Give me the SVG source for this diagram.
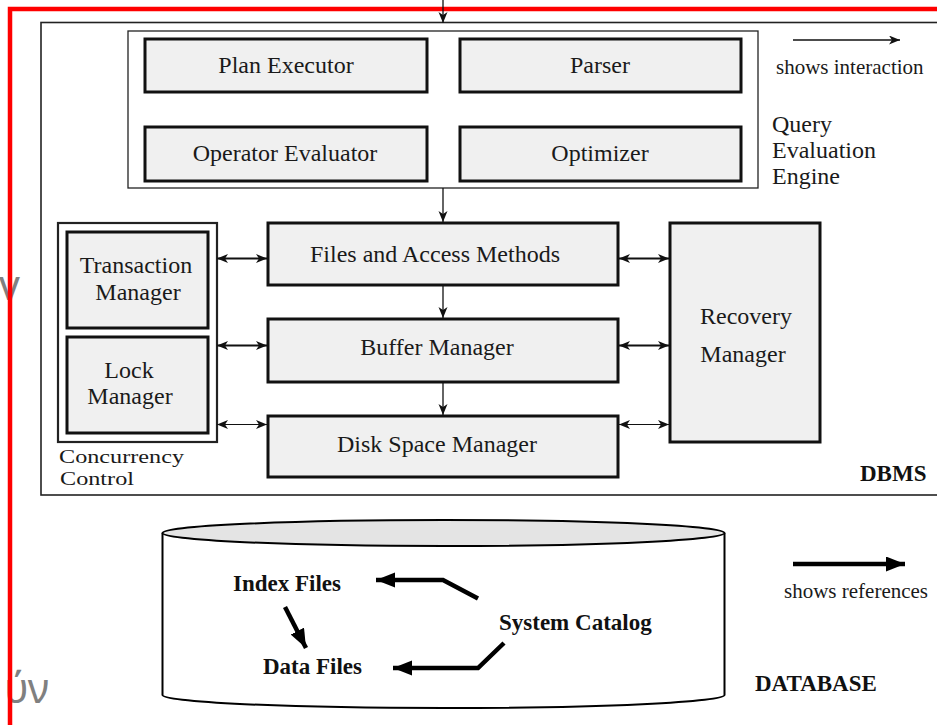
<svg xmlns="http://www.w3.org/2000/svg" width="937" height="725" viewBox="0 0 937 725">
<style>
  .t { font-family: "Liberation Serif", "Times New Roman", serif; font-size: 24px; fill: #1a1a1a; }
  .cc { font-family: "Liberation Serif", "Times New Roman", serif; font-size: 19px; fill: #1a1a1a; }
  .tb { font-family: "Liberation Serif", "Times New Roman", serif; font-size: 23px; font-weight: bold; fill: #111; }
  .sm { font-family: "Liberation Serif", "Times New Roman", serif; font-size: 21px; fill: #1a1a1a; }
  .box { fill: #f0f0f0; stroke: #111; stroke-width: 3; }
  .frame { fill: none; stroke: #222; }
  .ghost { font-family: "Noto Sans", "Open Sans", sans-serif; font-size: 41px; fill: #808080; }
  .ia { stroke: #111; fill: none; }
  .ref { stroke: #000; stroke-width: 4.5; fill: none; }
</style>
<defs>
  <marker id="ah" markerUnits="userSpaceOnUse" markerWidth="12" markerHeight="10" refX="11" refY="4.5" orient="auto-start-reverse">
    <path d="M0,0 L11,4.5 L0,9 L3,4.5 Z" fill="#111"/>
  </marker>
  <marker id="rh" markerUnits="userSpaceOnUse" markerWidth="20" markerHeight="16" refX="19" refY="7.5" orient="auto">
    <path d="M0,0 L19,7.5 L0,15 Z" fill="#000"/>
  </marker>
</defs>
<rect width="937" height="725" fill="#fff"/>

<!-- background ghost text -->
<text class="ghost" x="-1" y="300">v</text>
<text class="ghost" x="49" y="703" text-anchor="end">ύν</text>

<!-- DBMS frame -->
<g id="dbms">
  <rect class="frame" x="41" y="22.5" width="1000" height="472.5" stroke-width="1.6"/>
  <text class="tb" x="860" y="481">DBMS</text>
</g>

<!-- Query Evaluation Engine -->
<g id="qee">
  <rect class="frame" x="128" y="31" width="630" height="157" stroke-width="1.3"/>
  <text class="t" x="772" y="132">Query</text>
  <text class="t" x="772" y="158">Evaluation</text>
  <text class="t" x="772" y="184">Engine</text>
</g>
<g id="plan-executor">
  <rect class="box" x="145" y="39" width="282" height="53"/>
  <text class="t" x="286" y="73" text-anchor="middle">Plan Executor</text>
</g>
<g id="parser">
  <rect class="box" x="460" y="39" width="281" height="53"/>
  <text class="t" x="600" y="73" text-anchor="middle">Parser</text>
</g>
<g id="operator-evaluator">
  <rect class="box" x="145" y="127" width="282" height="54"/>
  <text class="t" x="285" y="161" text-anchor="middle">Operator Evaluator</text>
</g>
<g id="optimizer">
  <rect class="box" x="460" y="127" width="281" height="54"/>
  <text class="t" x="600" y="161" text-anchor="middle">Optimizer</text>
</g>

<!-- legend interaction -->
<g id="legend-interaction">
  <line class="ia" x1="793" y1="40" x2="900" y2="40" stroke-width="1.3" marker-end="url(#ah)"/>
  <text class="sm" x="776" y="74">shows interaction</text>
</g>

<!-- Concurrency control -->
<g id="concurrency-control">
  <rect class="frame" x="58" y="223" width="159" height="219" stroke-width="2.2" stroke="#111"/>
  <text class="cc" x="59" y="463" textLength="125" lengthAdjust="spacingAndGlyphs">Concurrency</text>
  <text class="cc" x="60" y="485" textLength="74" lengthAdjust="spacingAndGlyphs">Control</text>
</g>
<g id="transaction-manager">
  <rect class="box" x="67" y="232" width="141" height="96"/>
  <text class="t" x="136" y="273" text-anchor="middle">Transaction</text>
  <text class="t" x="138" y="300" text-anchor="middle">Manager</text>
</g>
<g id="lock-manager">
  <rect class="box" x="67" y="337" width="141" height="96"/>
  <text class="t" x="129" y="378" text-anchor="middle">Lock</text>
  <text class="t" x="130" y="404" text-anchor="middle">Manager</text>
</g>

<g id="files-access-methods">
  <rect class="box" x="268" y="223" width="350" height="62"/>
  <text class="t" x="435" y="262" text-anchor="middle">Files and Access Methods</text>
</g>
<g id="buffer-manager">
  <rect class="box" x="268" y="319" width="350" height="63"/>
  <text class="t" x="437" y="355" text-anchor="middle">Buffer Manager</text>
</g>
<g id="disk-space-manager">
  <rect class="box" x="268" y="416" width="350" height="61"/>
  <text class="t" x="437" y="452" text-anchor="middle">Disk Space Manager</text>
</g>
<g id="recovery-manager">
  <rect class="box" x="670" y="223" width="150" height="219"/>
  <text class="t" x="746" y="324" text-anchor="middle">Recovery</text>
  <text class="t" x="743" y="362" text-anchor="middle">Manager</text>
</g>

<!-- Database cylinder -->
<g id="database">
  <path d="M162.5,533 L162.5,695 A281,13 0 0 0 724.5,695 L724.5,533" fill="#fff" stroke="#000" stroke-width="2"/>
  <ellipse cx="443.5" cy="533" rx="281" ry="13" fill="#e4e4e4" stroke="#000" stroke-width="2"/>
  <text class="tb" x="755" y="691">DATABASE</text>
</g>
<g id="index-files">
  <text class="tb" x="233" y="591">Index Files</text>
</g>
<g id="data-files">
  <text class="tb" x="263" y="674">Data Files</text>
</g>
<g id="system-catalog">
  <text class="tb" x="499" y="630">System Catalog</text>
</g>

<!-- legend references -->
<g id="legend-references">
  <line class="ref" x1="793" y1="564" x2="905" y2="564" marker-end="url(#rh)"/>
  <text class="sm" x="784" y="598">shows references</text>
</g>

<!-- connectors -->
<g id="connectors">
  <!-- red frame -->
  <path d="M10,725 L10,9 L940,9" fill="none" stroke="#f00" stroke-width="4.5"/>
  <!-- incoming top arrow -->
  <line class="ia" x1="443" y1="0" x2="443" y2="23" stroke-width="1.3" marker-end="url(#ah)"/>
  <!-- vertical interactions -->
  <line class="ia" x1="443" y1="188" x2="443" y2="222" stroke-width="1.3" marker-end="url(#ah)"/>
  <line class="ia" x1="443" y1="286" x2="443" y2="318" stroke-width="1.3" marker-end="url(#ah)"/>
  <line class="ia" x1="443" y1="383" x2="443" y2="415" stroke-width="1.3" marker-end="url(#ah)"/>
  <!-- left double arrows -->
  <line class="ia" x1="217" y1="258.5" x2="267" y2="258.5" stroke-width="2" marker-start="url(#ah)" marker-end="url(#ah)"/>
  <line class="ia" x1="217" y1="345.5" x2="267" y2="345.5" stroke-width="2" marker-start="url(#ah)" marker-end="url(#ah)"/>
  <line class="ia" x1="217" y1="424.5" x2="267" y2="424.5" stroke-width="1" marker-start="url(#ah)" marker-end="url(#ah)"/>
  <!-- right double arrows -->
  <line class="ia" x1="619" y1="258.5" x2="669" y2="258.5" stroke-width="2" marker-start="url(#ah)" marker-end="url(#ah)"/>
  <line class="ia" x1="619" y1="345.5" x2="669" y2="345.5" stroke-width="2" marker-start="url(#ah)" marker-end="url(#ah)"/>
  <line class="ia" x1="619" y1="424.5" x2="669" y2="424.5" stroke-width="1" marker-start="url(#ah)" marker-end="url(#ah)"/>
  <!-- references -->
  <path class="ref" d="M478,598.5 L443,580 L376,580" marker-end="url(#rh)"/>
  <path class="ref" d="M504,643 L478,668 L393,668" marker-end="url(#rh)"/>
  <line class="ref" x1="285" y1="607" x2="306" y2="648" marker-end="url(#rh)"/>
</g>
</svg>
